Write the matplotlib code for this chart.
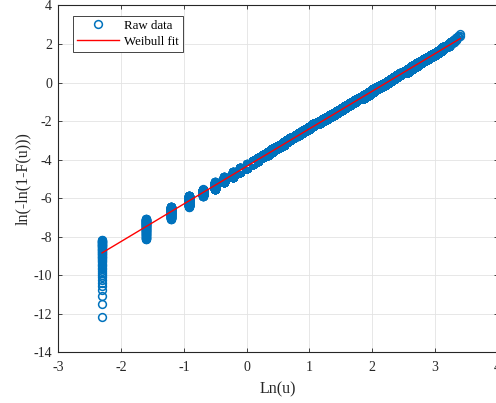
import numpy as np
import matplotlib
matplotlib.use("Agg")
import matplotlib.pyplot as plt

plt.rcParams['font.family'] = ['Liberation Serif', 'DejaVu Serif']
plt.rcParams['axes.unicode_minus'] = False

# wind speed bins (m/s) and ln(-ln(1-F)) at the top of each bin
speeds = [0.1, 0.2, 0.3, 0.4, 0.5, 0.6, 0.7, 0.8, 0.9, 1.0,
          1.1, 1.2, 1.3, 1.4, 1.5, 1.6, 1.7, 1.8, 1.9, 2.0,
          2.1, 2.2, 2.3, 2.4, 2.5, 2.6, 2.7, 2.8, 2.9, 3.0,
          3.2, 3.4, 3.6, 3.8, 4.0, 4.2, 4.4, 4.6, 4.8, 5.0,
          5.2, 5.4, 5.6, 5.8, 6.0, 6.5, 7.0, 7.5, 8.0, 8.5,
          9.0, 9.5, 10.0, 10.5, 11.0, 11.5, 12.0, 13, 14, 15,
          16, 17, 18, 19, 20, 21, 22, 23, 24, 25,
          26, 27, 28, 29, 30]
y_top = [-8.16, -7.08, -6.44, -5.88, -5.55, -5.18, -4.92, -4.66, -4.45, -4.25,
         -4.06, -3.89, -3.74, -3.59, -3.46, -3.33, -3.22, -3.10, -3.00, -2.90,
         -2.80, -2.71, -2.63, -2.54, -2.46, -2.39, -2.31, -2.24, -2.17, -2.11,
         -2.02, -1.90, -1.79, -1.69, -1.59, -1.49, -1.40, -1.31, -1.23, -1.15,
         -1.08, -1.00, -0.93, -0.86, -0.80, -0.64, -0.50, -0.36, -0.24, -0.12,
         -0.01, 0.10, 0.20, 0.30, 0.39, 0.47, 0.56, 0.71, 0.86, 0.99,
         1.12, 1.23, 1.35, 1.45, 1.55, 1.65, 1.74, 1.83, 1.91, 2.02,
         2.12, 2.22, 2.32, 2.42, 2.49]
n_samples = 193000

# Weibull fit: shape k and scale c
fit_k = 1.95
fit_c = 9.31

# cumulative counts per bin -> individual samples
cum = np.round((n_samples + 1) * (1 - np.exp(-np.exp(np.array(y_top))))).astype(int)
cum[-1] = n_samples
counts = np.diff(np.concatenate([[0], cum]))
u = np.repeat(speeds, counts)
F = np.arange(1, n_samples + 1) / (n_samples + 1)
x_raw = np.log(u)
y_raw = np.log(-np.log(1 - F))

x_fit = np.log([speeds[0], speeds[-1]])
y_fit = fit_k * (x_fit - np.log(fit_c))

fig = plt.figure(figsize=(4.96, 4.03), dpi=100)
ax = fig.add_axes([0.1175, 0.1258, 0.886, 0.8606])

ax.plot(x_raw, y_raw, 'o', color='#0072BD', mfc='none', ms=5.6, mew=1.1,
        label='Raw data')
ax.plot(x_fit, y_fit, '-', color='red', lw=1.0, label='Weibull fit')

ax.set_xlim(-3, 4)
ax.set_ylim(-14, 4)
ax.set_xticks(range(-3, 5))
ax.set_yticks(range(-14, 5, 2))
ax.grid(True, color='#e3e3e3', lw=0.6)
ax.set_axisbelow(True)

dark = '#262626'
for s in ax.spines.values():
    s.set_color(dark)
    s.set_linewidth(0.8)
ax.tick_params(direction='in', length=3.2, width=0.6, color=dark,
               labelcolor=dark, labelsize=10, top=True, right=True)
ax.tick_params(axis='x', pad=6.5)
ax.tick_params(axis='y', pad=4.5)

ax.set_xlabel('Ln(u)', fontsize=11.5, color=dark, labelpad=5)
ax.set_ylabel('ln(-ln(1-F(u)))', fontsize=11.5, color=dark, labelpad=1.5)

leg = ax.legend(loc='upper left', bbox_to_anchor=(0.034, 0.971),
                borderaxespad=0, fontsize=9.3, fancybox=False, framealpha=1,
                edgecolor=dark, handlelength=3.2, handletextpad=0.4,
                borderpad=0.32, labelspacing=0.3)
leg.get_frame().set_linewidth(0.6)

fig.savefig('out.png', dpi=100)
